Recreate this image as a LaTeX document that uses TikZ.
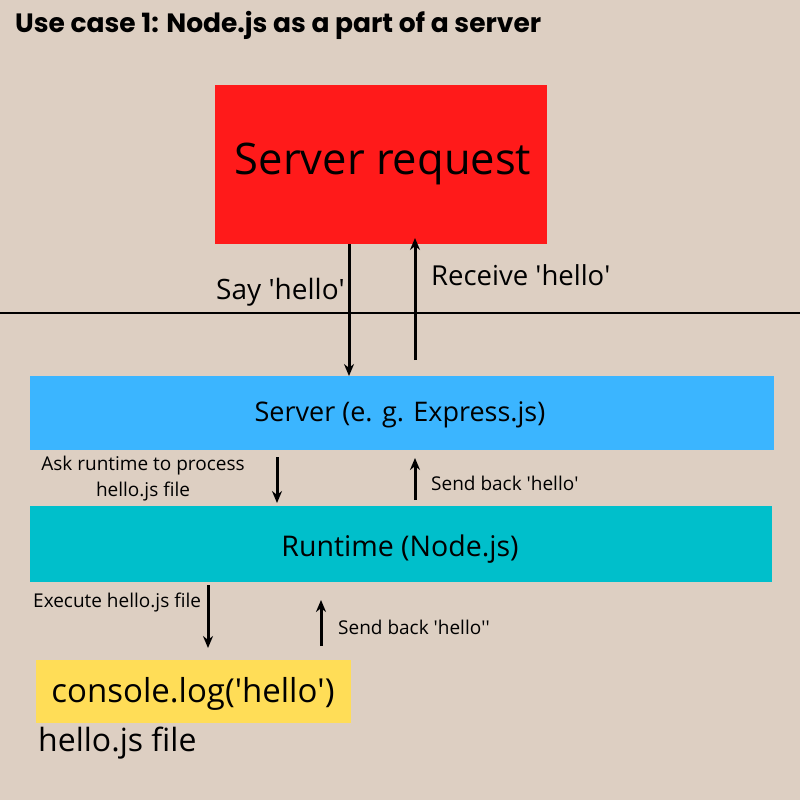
\documentclass[tikz,border=0pt]{standalone}
\usepackage{fontspec}
\setmainfont{Open Sans}
\newfontfamily\pop{Poppins}
\usetikzlibrary{arrows.meta}
\definecolor{bg}{HTML}{DDCFC2}
\definecolor{red1}{HTML}{FF1A1A}
\definecolor{blue1}{HTML}{3BB5FF}
\definecolor{teal1}{HTML}{00BFCB}
\definecolor{yel1}{HTML}{FFDD57}
\newcommand\qq{\textquotesingle}
\begin{document}
\begin{tikzpicture}[x=1pt,y=-1pt,
  arr/.style={-{Stealth[length=12pt,width=10pt]},line width=3pt},
  lbl/.style={inner sep=0,anchor=west},
  sm/.style={font=\fontsize{19}{26}\selectfont}]
\fill[bg] (0,0) rectangle (800,800);
\useasboundingbox (0,0) rectangle (800,800);
\node[lbl] (title) at (15,25) {\fontsize{26.5}{30}\selectfont\pop\bfseries Use case 1: Node.js as a part of a server};
\fill[red1] (215,85) rectangle (547,244);
\node (sr) at (383,164) {\fontsize{43.5}{48}\selectfont Server request};
\draw[line width=2pt] (0,313) -- (800,313);
\fill[blue1] (30,376) rectangle (774,450);
\node (srv) at (400,415) {\fontsize{27}{30}\selectfont Server (e. g. Express.js)};
\fill[teal1] (30,506) rectangle (772,582);
\node (rt) at (400,549) {\fontsize{28.5}{30}\selectfont Runtime (Node.js)};
\fill[yel1] (36,660) rectangle (351,723);
\node (cl) at (193,694) {\fontsize{33}{36}\selectfont console.log(\qq hello\qq)};
\node[lbl] (hf) at (38,743) {\fontsize{32}{36}\selectfont hello.js file};
\coordinate (a1) at (349,244); \coordinate (a2) at (349,376);
\draw[arr] (a1) -- (a2);
\coordinate (b1) at (415,360); \coordinate (b2) at (415,238);
\draw[arr] (b1) -- (b2);
\node[lbl] (say) at (216,292) {\fontsize{28}{30}\selectfont Say \qq hello\qq};
\node[lbl] (rec) at (431,275) {\fontsize{27.5}{30}\selectfont Receive \qq hello\qq};
\coordinate (c1) at (277,457); \coordinate (c2) at (277,503);
\draw[arr] (c1) -- (c2);
\coordinate (d1) at (415,500); \coordinate (d2) at (415,458);
\draw[arr] (d1) -- (d2);
\node[align=center,inner sep=0,sm] (ask) at (143,479) {Ask runtime to process\\hello.js file};
\node[lbl,sm] (sb1) at (431,483) {Send back \qq hello\qq};
\coordinate (e1) at (208,585); \coordinate (e2) at (208,648);
\draw[arr] (e1) -- (e2);
\coordinate (f1) at (321,646); \coordinate (f2) at (321,600);
\draw[arr] (f1) -- (f2);
\node[lbl,sm] (ex) at (33,603) {Execute hello.js file};
\node[lbl,sm] (sb2) at (338,627) {Send back \qq hello\qq\qq};
\end{tikzpicture}
\end{document}
